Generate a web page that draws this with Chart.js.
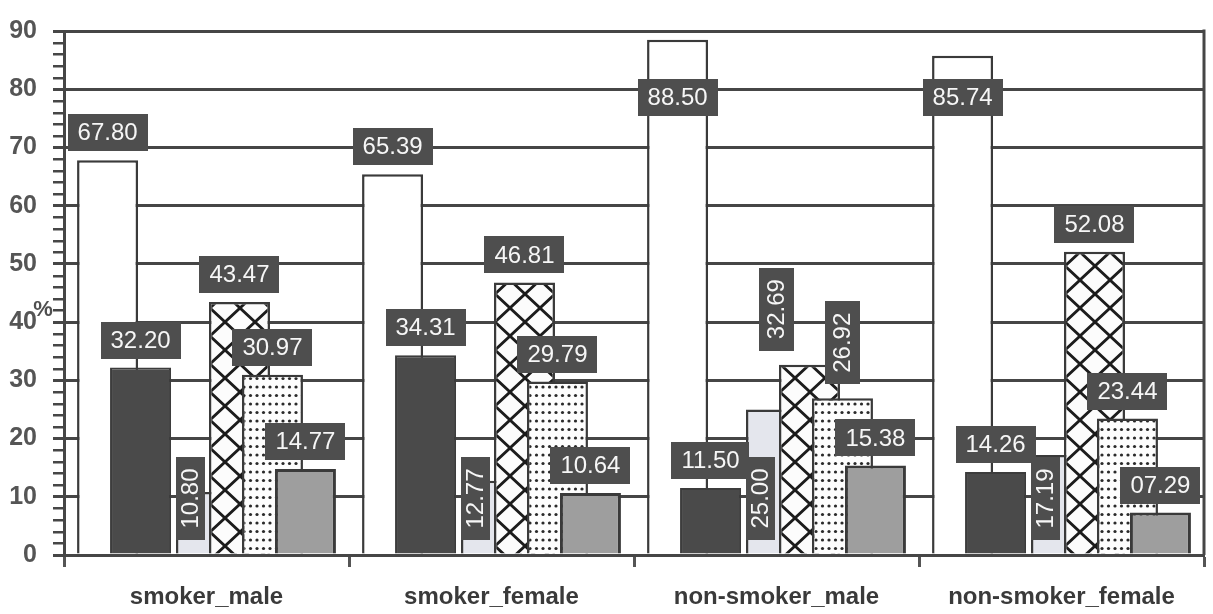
<!DOCTYPE html>
<html>
<head>
<meta charset="utf-8">
<script src="https://cdn.jsdelivr.net/npm/chart.js@4.4.0/dist/chart.umd.min.js"></script>
<style>
html,body{margin:0;padding:0;background:#ffffff;}
#wrap{position:relative;width:1213px;height:614px;}
canvas{display:block;}
</style>
</head>
<body>
<div id="wrap"><canvas id="c" width="1213" height="614"></canvas></div>
<script>
// ---- data ----
const categories = ['smoker_male', 'smoker_female', 'non-smoker_male', 'non-smoker_female'];
const whiteSeries  = [67.80, 65.39, 88.50, 85.74];
const blackSeries  = [32.20, 34.31, 11.50, 14.26];
const lightSeries  = [10.80, 12.77, 25.00, 17.19];
const crossSeries  = [43.47, 46.81, 32.69, 52.08];
const dottedSeries = [30.97, 29.79, 26.92, 23.44];
const graySeries   = [14.77, 10.64, 15.38, 7.29];
const spacerSeries = [null, null, null, null];
const yTickValues  = [0, 10, 20, 30, 40, 50, 60, 70, 80, 90];
const yAxisTitle   = '%';

// ---- styling ----
const LINE = '#464646';
const BORDER = '#3a3a3a';
const CAT_PCT = 0.81;
const BAR_PCT = 1.85;
const FONT = '"Liberation Sans", Arial, Helvetica, sans-serif';

function crossPattern() {
  const w = 30, h = 28;
  const c = document.createElement('canvas'); c.width = w; c.height = h;
  const g = c.getContext('2d');
  g.fillStyle = '#fcfcfc'; g.fillRect(0, 0, w, h);
  g.strokeStyle = '#1c1c1c'; g.lineWidth = 2.8;
  g.beginPath();
  for (const dx of [-w, 0, w]) {
    g.moveTo(dx - 3, -2.8); g.lineTo(dx + w + 3, h + 2.8);
    g.moveTo(dx + w + 3, -2.8); g.lineTo(dx - 3, h + 2.8);
  }
  g.stroke();
  return g.createPattern(c, 'repeat');
}
function dotPattern() {
  const w = 13, h = 17;
  const c = document.createElement('canvas'); c.width = w; c.height = h;
  const g = c.getContext('2d');
  g.fillStyle = '#fdfdfd'; g.fillRect(0, 0, w, h);
  g.fillStyle = '#2a2a2a';
  for (const [x, y] of [[2, 3], [8.5, 3], [2, 11.5], [8.5, 11.5]]) {
    g.beginPath(); g.arc(x + 1.5, y + 1.5, 1.6, 0, Math.PI * 2); g.fill();
  }
  return g.createPattern(c, 'repeat');
}

const fmt = v => v.toFixed(2).padStart(5, '0');

const datasets = [
  { label: 'white',  data: whiteSeries,  backgroundColor: '#ffffff', borderColor: BORDER, borderWidth: 2.5,
    labelModes: ['above', 'above', 'above', 'above'] },
  { label: 'black',  data: blackSeries,  backgroundColor: '#4a4a4a', borderColor: '#3c3c3c', borderWidth: 2,
    labelModes: ['above', 'above', 'above', 'above'] },
  { label: 'spacer', data: spacerSeries, backgroundColor: 'rgba(0,0,0,0)', borderWidth: 0 },
  { label: 'light',  data: lightSeries,  backgroundColor: '#e4e6ed', borderColor: BORDER, borderWidth: 2.5,
    labelModes: ['base', 'base', 'base', 'base'] },
  { label: 'cross',  data: crossSeries,  backgroundColor: crossPattern(), borderColor: BORDER, borderWidth: 2.5,
    labelModes: ['above', 'above', 'rotLeft', 'above'] },
  { label: 'dotted', data: dottedSeries, backgroundColor: dotPattern(), borderColor: BORDER, borderWidth: 2.5,
    labelModes: ['above', 'above', 'rot', 'above'] },
  { label: 'gray',   data: graySeries,   backgroundColor: '#9e9e9e', borderColor: BORDER, borderWidth: 3,
    labelModes: ['above', 'above', 'above', 'above'] }
];
datasets.forEach(d => { d.categoryPercentage = CAT_PCT; d.barPercentage = BAR_PCT; });

// draw datasets so that later series lie on top, plus the right frame line
const drawOrderPlugin = {
  id: 'drawOrder',
  beforeDatasetsDraw(chart) {
    const ctx = chart.ctx, a = chart.chartArea;
    ctx.save();
    ctx.strokeStyle = LINE; ctx.lineWidth = 3;
    ctx.beginPath(); ctx.moveTo(a.right, a.top - 1.5); ctx.lineTo(a.right, a.bottom); ctx.stroke();
    ctx.restore();
    for (let i = 0; i < chart.data.datasets.length; i++) {
      if (chart.isDatasetVisible(i)) chart.getDatasetMeta(i).controller.draw();
    }
    return false;
  }
};

function box(ctx, x, y, w, h) {
  ctx.fillStyle = '#4e4e4e';
  ctx.fillRect(Math.round(x), Math.round(y), Math.round(w), Math.round(h));
}

const labelPlugin = {
  id: 'valueLabels',
  afterDraw(chart) {
    const ctx = chart.ctx, a = chart.chartArea, xs = chart.scales.x;
    const slot = xs.width / categories.length * CAT_PCT / chart.data.datasets.length;
    ctx.save();
    ctx.font = '24px ' + FONT;
    ctx.textBaseline = 'middle';
    ctx.textAlign = 'center';
    chart.data.datasets.forEach((ds, i) => {
      if (!ds.labelModes) return;
      const meta = chart.getDatasetMeta(i);
      meta.data.forEach((el, j) => {
        const v = ds.data[j];
        if (v == null) return;
        const txt = fmt(v);
        const tw = ctx.measureText(txt).width;
        const mode = ds.labelModes[j];
        if (mode === 'above') {
          const w = tw + 20, h = 37;
          let top = el.y - 9 - h;
          top = Math.max(top, a.top + 48);
          const cx = el.x;
          box(ctx, cx - w / 2, top, w, h);
          ctx.fillStyle = '#f6f6f6';
          ctx.fillText(txt, cx, top + h / 2 + 1);
        } else {
          let cx, cy, bw, bh = tw + 23;
          if (mode === 'base') {
            bw = 29; cx = el.x - slot * 0.5; cy = el.base - 55;
          } else {
            bw = 35; cx = el.x + (mode === 'rotLeft' ? -slot : 0); cy = el.y - 14 - bh / 2;
          }
          box(ctx, cx - bw / 2, cy - bh / 2, bw, bh);
          ctx.save();
          ctx.translate(cx, cy);
          ctx.rotate(-Math.PI / 2);
          ctx.fillStyle = '#f6f6f6';
          ctx.fillText(txt, 0, 1);
          ctx.restore();
        }
      });
    });
    // minor tick marks on the value axis (every 2 units)
    const ys = chart.scales.y;
    ctx.strokeStyle = LINE; ctx.lineWidth = 2.5;
    ctx.beginPath();
    for (let v = ys.min; v <= ys.max; v += 2) {
      if (yTickValues.includes(v)) continue;
      const py = Math.round(ys.getPixelForValue(v)) + 0.25;
      ctx.moveTo(a.left - 11, py); ctx.lineTo(a.left, py);
    }
    ctx.stroke();
    // axis unit
    ctx.font = 'bold 22px ' + FONT;
    ctx.fillStyle = '#4f4f4f';
    ctx.fillText(yAxisTitle, 43, ys.getPixelForValue(40) - 12);
    ctx.restore();
  }
};

new Chart(document.getElementById('c'), {
  type: 'bar',
  data: { labels: categories, datasets },
  options: {
    responsive: false,
    animation: false,
    events: [],
    layout: { padding: { top: 17, right: 9, left: 0, bottom: 0 } },
    plugins: { legend: { display: false }, tooltip: { enabled: false } },
    scales: {
      x: {
        offset: true,
        grid: { offset: true, drawOnChartArea: false, drawTicks: true, tickLength: 12, tickWidth: 3, tickColor: '#555555' },
        border: { display: true, color: LINE, width: 3 },
        ticks: { color: '#3a3a3a', padding: 16, font: { family: FONT, weight: 'bold', size: 24 } },
        afterFit(s) { s.height = 59; }
      },
      y: {
        min: 0, max: 90,
        ticks: {
          stepSize: 10,
          autoSkip: false,
          padding: 16,
          color: '#555555',
          font: { family: FONT, weight: 'bold', size: 25 },
          callback: v => (yTickValues.includes(v) ? String(v) : '')
        },
        grid: {
          color: LINE,
          lineWidth: 3,
          tickColor: LINE,
          tickWidth: 3,
          tickLength: 11
        },
        border: { display: true, color: LINE, width: 3 },
        afterFit(s) { s.width = 64; }
      }
    }
  },
  plugins: [drawOrderPlugin, labelPlugin]
});
</script>
</body>
</html>
